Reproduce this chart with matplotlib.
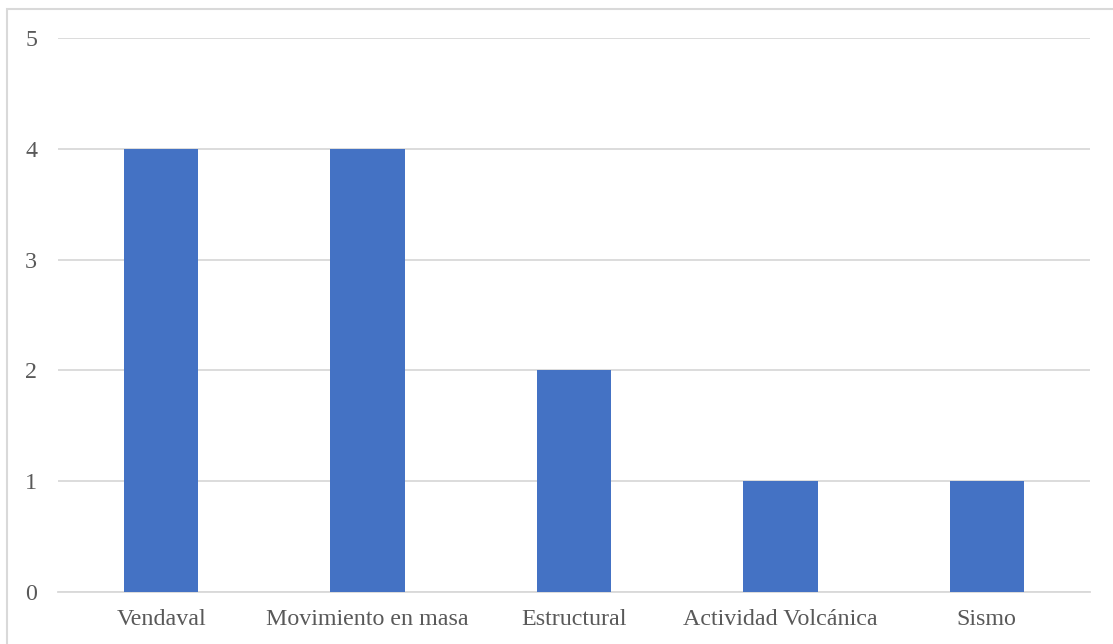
import matplotlib.pyplot as plt
from matplotlib.patches import Rectangle

categories = ["Vendaval", "Movimiento en masa", "Estructural", "Actividad Volcánica", "Sismo"]
counts = [4, 4, 2, 1, 1]
yticks = [0, 1, 2, 3, 4, 5]

plt.rcParams["font.family"] = ["Liberation Serif", "DejaVu Serif"]

W, H = 1113, 644
fig = plt.figure(figsize=(W / 100, H / 100), dpi=100)
ax = fig.add_axes([58 / W, 1 - 592 / H, (1090 - 58) / W, (592 - 38) / H])

ax.bar(range(len(categories)), counts, width=0.36, color="#4472C4", zorder=3)

ax.set_xlim(-0.5, len(categories) - 0.5)
ax.set_ylim(0, 5)
ax.set_yticks(yticks)
ax.set_xticks(range(len(categories)))
ax.set_xticklabels(categories)
ax.grid(axis="y", color="#D9D9D9", linewidth=1.3, zorder=0)
ax.tick_params(axis="both", length=0, labelsize=17.3, labelcolor="#595959")
ax.tick_params(axis="y", pad=15)
ax.tick_params(axis="x", pad=12)
for side in ("top", "right", "left"):
    ax.spines[side].set_visible(False)
ax.spines["bottom"].set_color("#D9D9D9")
ax.spines["bottom"].set_linewidth(1.3)

# light frame around the chart area
fig.patches.append(Rectangle((7 / W, -0.1), 1.2, 1 - 9 / H + 0.1,
                             transform=fig.transFigure, fill=False,
                             edgecolor="#D9D9D9", linewidth=1.5))

fig.savefig("out.png", dpi=100)
